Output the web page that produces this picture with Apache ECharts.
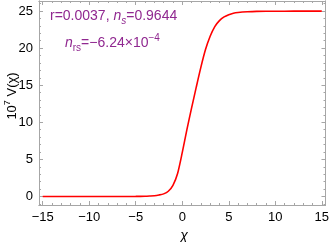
<!DOCTYPE html>
<html><head><meta charset="utf-8">
<script src="https://cdn.jsdelivr.net/npm/echarts@6/dist/echarts.min.js"></script>
<style>html,body{margin:0;padding:0;background:#fff}#c{width:332px;height:242px}</style>
</head><body><div id="c"></div>
<script>
const chi = [-15,-10,-6,-5,-4,-3.5,-3,-2.5,-2,-1.5,-1,-0.5,0,0.5,1,1.5,2,2.5,3,3.5,4,4.5,5,5.5,6,7,8,10,12,15];
const V   = [0,0,0,0.01,0.03,0.06,0.1,0.2,0.35,0.7,1.5,3.1,5.9,9.0,11.9,14.7,17.4,19.8,21.6,22.9,23.7,24.2,24.5,24.7,24.8,24.9,24.95,24.97,24.98,24.98];
const xTicks = [-15,-10,-5,0,5,10,15];
const yTicks = [0,5,10,15,20,25];
const xMinor = []; for (let v=-15; v<=15; v++) xMinor.push(v);
const yMinor = []; for (let v=-1; v<=26; v++) yMinor.push(v);

const frame = '#a6a6a6';
const font = 'Liberation Sans, Arial, sans-serif';
const chart = echarts.init(document.getElementById('c'));
function fmt(v){ return v < 0 ? '\u2212' + (-v) : String(v); }
function xAxis(pos, vals, len, labels){
  return { type:'value', position:pos, min:-15.4, max:15.4,
    axisLine:{show:true, onZero:false, lineStyle:{color:frame, width:1}},
    axisTick:{show:true, inside:true, length:len, customValues:vals, lineStyle:{color:frame}},
    axisLabel:{show:labels, customValues:vals, formatter:fmt, color:'#000', fontSize:13, fontFamily:font, margin:6},
    splitLine:{show:false} };
}
function yAxis(pos, vals, len, labels){
  return { type:'value', position:pos, min:-1.15, max:26.35,
    axisLine:{show:true, onZero:false, lineStyle:{color:frame, width:1}},
    axisTick:{show:true, inside:true, length:len, customValues:vals, lineStyle:{color:frame}},
    axisLabel:{show:labels, customValues:vals, formatter:fmt, color:'#000', fontSize:13, fontFamily:font, margin:6},
    splitLine:{show:false} };
}
const purple = '#902890';
chart.setOption({
  animation:false,
  grid:{left:39, right:3, top:1, bottom:37},
  xAxis:[xAxis('bottom',xTicks,4,true), xAxis('bottom',xMinor,2,false), xAxis('top',xTicks,4,false), xAxis('top',xMinor,2,false)],
  yAxis:[yAxis('left',yTicks,4,true), yAxis('left',yMinor,2,false), yAxis('right',yTicks,4,false), yAxis('right',yMinor,2,false)],
  series:[{type:'line', xAxisIndex:0, yAxisIndex:0, data:chi.map((c,i)=>[c,V[i]]), smooth:0.25, showSymbol:false,
    lineStyle:{color:'#ff0000', width:1.6}}],
  graphic:[
    {type:'text', left:50, top:9, style:{
      text:'{n|r=0.0037, }{i|n}{si|s}{n|=0.9644}',
      rich:{
        n:{fontSize:14, fontFamily:font, fill:purple, lineHeight:20},
        i:{fontSize:14, fontFamily:font, fontStyle:'italic', fill:purple, lineHeight:20},
        si:{fontSize:10, fontFamily:font, fontStyle:'italic', fill:purple, verticalAlign:'bottom', lineHeight:10}
      }}},
    {type:'text', left:65, top:33, style:{
      text:'{i|n}{s|rs}{n|=\u22126.24\u00d710}{p|\u22124}',
      rich:{
        n:{fontSize:14, fontFamily:font, fill:purple, lineHeight:20},
        i:{fontSize:14, fontFamily:font, fontStyle:'italic', fill:purple, lineHeight:20},
        s:{fontSize:10, fontFamily:font, fill:purple, verticalAlign:'bottom', lineHeight:10},
        p:{fontSize:10, fontFamily:font, fill:purple, verticalAlign:'top', lineHeight:10}
      }}},
    {type:'text', x:12, y:96, rotation:Math.PI/2, style:{
      text:'{n|10}{p|7}{n| V(\u03c7)}', align:'center', verticalAlign:'middle',
      rich:{
        n:{fontSize:13, fontFamily:font, fill:'#000', lineHeight:18},
        p:{fontSize:9, fontFamily:font, fill:'#000', verticalAlign:'top', lineHeight:9}
      }}},
    {type:'text', x:184, y:236, style:{text:'\u03c7', align:'center', verticalAlign:'middle',
      fontSize:14, fontFamily:font, fontStyle:'italic', fill:'#000'}}
  ]
});
</script></body></html>
